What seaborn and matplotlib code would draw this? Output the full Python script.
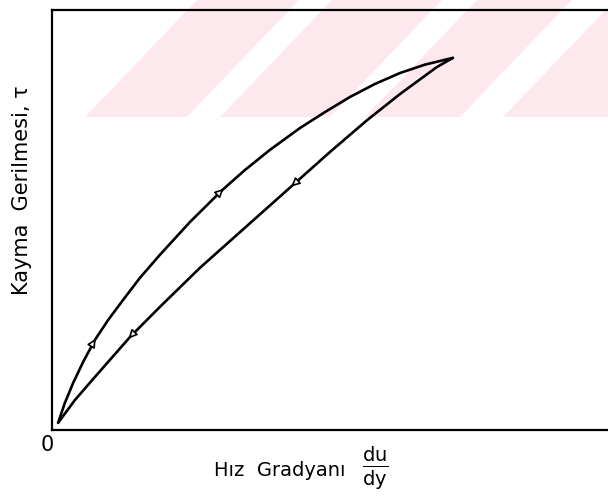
import numpy as np
import pandas as pd
import seaborn as sns
import matplotlib.pyplot as plt
from matplotlib.patches import Polygon

# Hysteresis loop (arbitrary units, 0-10 on both axes)
# rising branch (increasing shear rate)
up_x = [0.11, 0.23, 0.38, 0.56, 0.77, 1.01, 1.28, 1.58, 1.94, 2.48,
        3.06, 3.47, 3.92, 4.46, 4.91, 5.36, 5.81, 6.26, 6.71, 7.21]
up_y = [0.17, 0.64, 1.12, 1.62, 2.14, 2.62, 3.10, 3.62, 4.17, 4.95,
        5.71, 6.19, 6.67, 7.19, 7.57, 7.93, 8.24, 8.50, 8.70, 8.86]
# falling branch (decreasing shear rate)
down_x = [7.21, 6.92, 6.26, 5.67, 5.00, 4.33, 3.38, 2.66, 1.94, 1.40, 0.77, 0.41, 0.11]
down_y = [8.86, 8.64, 8.00, 7.38, 6.62, 5.83, 4.71, 3.86, 2.93, 2.21, 1.26, 0.71, 0.17]

# where the little arrowheads sit (index into each branch)
up_arrows = [4, 10]
down_arrows = [5, 9]

x_label = "Hız  Gradyanı"
y_label = "Kayma  Gerilmesi, τ"
origin_label = "0"

df = pd.concat([
    pd.DataFrame({"x": up_x, "y": up_y, "leg": "up"}),
    pd.DataFrame({"x": down_x, "y": down_y, "leg": "down"}),
])

sns.set_style("white")
plt.rcParams["font.family"] = ["DejaVu Sans"]
plt.rcParams["text.color"] = "black"

fig = plt.figure(figsize=(6.08, 5.04), dpi=100)
ax = fig.add_axes([52 / 608, 1 - 430 / 504, 1 - 52 / 608, 420 / 504])

# pale pink diagonal watermark stripes across the top of the scan
pink = "#fde9ed"
stripe_bottoms = [(85, 187), (220, 330), (365, 460), (503, 640)]
for x0, x1 in stripe_bottoms:
    pts = [(x0, 117), (x1, 117), (x1 + 112, 0), (x0 + 112, 0)]
    pts = [(px / 608, 1 - py / 504) for px, py in pts]
    ax.add_patch(Polygon(pts, closed=True, transform=fig.transFigure,
                         facecolor=pink, edgecolor="none", zorder=0.5,
                         clip_on=False))

sns.lineplot(data=df, x="x", y="y", units="leg", estimator=None, sort=False,
             color="black", linewidth=1.9, ax=ax, zorder=3)


def add_arrows(xs, ys, idx_list):
    for i in idx_list:
        dx = xs[i + 1] - xs[i - 1]
        dy = ys[i + 1] - ys[i - 1]
        n = np.hypot(dx, dy)
        ax.annotate("", xy=(xs[i] + 0.1 * dx / n, ys[i] + 0.1 * dy / n),
                    xytext=(xs[i] - 0.1 * dx / n, ys[i] - 0.1 * dy / n),
                    arrowprops=dict(arrowstyle="-|>,head_length=0.5,head_width=0.25",
                                    fc="white", ec="black", lw=1.2), zorder=4)


add_arrows(up_x, up_y, up_arrows)
add_arrows(down_x, down_y, down_arrows)

ax.set_xlim(0, 10)
ax.set_ylim(0, 10)
ax.set_xticks([])
ax.set_yticks([])
ax.set_xlabel("")
ax.set_ylabel("")
for side in ["left", "bottom", "top"]:
    ax.spines[side].set_color("black")
    ax.spines[side].set_linewidth(1.6)
    ax.spines[side].set_zorder(5)
ax.spines["right"].set_visible(False)

fig.text(47 / 608, 1 - 445 / 504, origin_label, fontsize=15,
         ha="center", va="center")
fig.text(280 / 608, 1 - 470 / 504, x_label, fontsize=14,
         ha="center", va="center")
fig.text(375 / 608, 1 - 468 / 504, r"$\frac{\mathrm{du}}{\mathrm{dy}}$",
         fontsize=20, ha="center", va="center")
fig.text(22 / 608, 1 - 190 / 504, y_label, fontsize=15, rotation=90,
         ha="center", va="center")

fig.savefig("out.png", dpi=100)
